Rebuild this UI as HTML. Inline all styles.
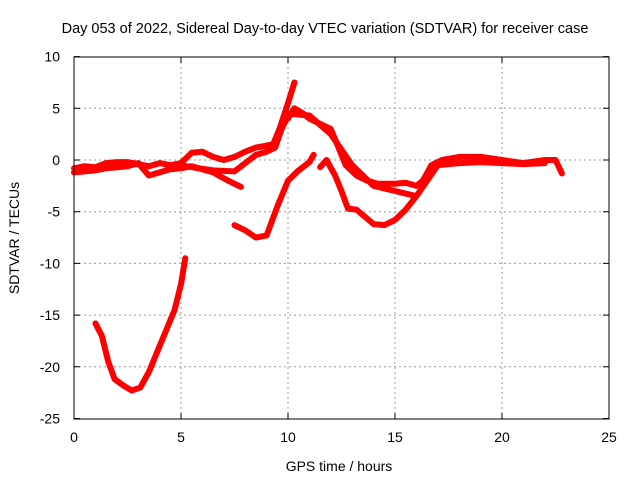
<!DOCTYPE html>
<html><head><meta charset="utf-8"><style>
body{margin:0;background:#fff}
text{font-family:"Liberation Sans",sans-serif;fill:#000}
</style></head><body>
<svg id="chart" width="640" height="480" xmlns="http://www.w3.org/2000/svg">
<text x="325" y="33" font-size="14.5" text-anchor="middle">Day 053 of 2022, Sidereal Day-to-day VTEC variation (SDTVAR) for receiver case</text>
<g id="grid"></g>
<g id="series"></g>
<rect x="74" y="57" width="535" height="362" fill="none" stroke="#000" stroke-width="1"/>
<g id="ticks"></g>
<text x="339" y="471" font-size="14" text-anchor="middle">GPS time / hours</text>
<text transform="translate(19,238) rotate(-90)" font-size="14" text-anchor="middle">SDTVAR / TECUs</text>
</svg>
<script>
const xTicks=[0,5,10,15,20,25];
const yTicks=[10,5,0,-5,-10,-15,-20,-25];
const segA=[[1.0,-15.8],[1.3,-17],[1.6,-19.5],[1.9,-21.2],[2.3,-21.8],[2.7,-22.3],[3.1,-22],[3.5,-20.5],[3.9,-18.5],[4.3,-16.5],[4.7,-14.5],[5.0,-12],[5.2,-9.5]];
const segB1=[[0,-0.8],[0.5,-0.6],[1,-0.7],[1.5,-0.3],[2,-0.2],[2.5,-0.2],[3,-0.4],[3.5,-0.6],[4,-0.3],[4.5,-0.5],[5,-0.3],[5.5,0.7],[6,0.8],[6.5,0.3],[7,0],[7.5,0.3],[8,0.8],[8.5,1.2],[9,1.4],[9.3,1.5],[9.6,3],[10,5.5],[10.3,7.5]];
const segB2=[[0,-1.2],[0.5,-1.1],[1,-1],[1.5,-0.8],[2,-0.7],[2.5,-0.6],[3,-0.3],[3.5,-1.5],[4,-1.2],[4.5,-0.9],[5,-0.8],[5.5,-0.6],[6.5,-1.2],[7.2,-2],[7.8,-2.6]];
const segB3=[[5,-0.5],[5.8,-0.8],[6.5,-1],[7.5,-1.1],[8,-0.3],[8.5,0.5],[9,0.8],[9.4,1.2],[9.7,3],[10,4.3]];
const segC=[[7.5,-6.3],[8,-6.8],[8.5,-7.5],[9,-7.3],[9.5,-4.5],[10,-2],[10.5,-1],[11,-0.2],[11.2,0.5]];
const segD=[[11.5,-0.7],[11.8,0],[12.2,-1.5],[12.5,-3],[12.8,-4.7],[13.2,-4.8],[13.6,-5.5],[14,-6.2],[14.5,-6.3],[15,-5.8],[15.5,-4.8],[16,-3.5]];
const segE1=[[10,4],[10.3,5],[10.7,4.5],[11,4],[11.5,3.5],[12,3],[12.3,1.5],[12.7,-0.5],[13.2,-1.5],[13.7,-2],[14.2,-2.3],[15,-2.3],[15.5,-2.2],[16,-2.5],[16.3,-2],[16.7,-0.5],[17.2,0],[18,0.3],[19,0.3],[20,0],[21,-0.3],[22,0],[22.5,0],[22.8,-1.3]];
const segE2=[[10,4.5],[11,4.3],[12,2.5],[13,-0.5],[14,-2.5],[15,-3],[16,-3.5],[16.5,-2],[17,-0.5],[18,-0.3],[19,-0.2],[20,-0.3],[21,-0.4],[22,-0.3]];
const allSegs=[segA,segB1,segB2,segB3,segC,segD,segE1,segE2];
const X=h=>74+h*21.4, Y=v=>160-v*10.34;
const NS="http://www.w3.org/2000/svg";
const grid=document.getElementById('grid'),ticks=document.getElementById('ticks'),ser=document.getElementById('series');
function mk(t,a,p){const e=document.createElementNS(NS,t);for(const k in a)e.setAttribute(k,a[k]);p.appendChild(e);return e;}
xTicks.forEach(t=>{
 if(t>0&&t<25){const l=mk('line',{x1:X(t),x2:X(t),y1:57,y2:419,stroke:'#999','stroke-dasharray':'2,3'},grid);
 
 }
 const tm=mk('path',{d:`M${X(t)},419v-6M${X(t)},57v6`,stroke:'#000'},ticks);
 
 
 const tx=mk('text',{x:X(t),y:442,'font-size':14,'text-anchor':'middle'},ticks);tx.textContent=t;
 
 
});
yTicks.forEach(t=>{
 if(t<10&&t>-25){const l=mk('line',{x1:74,x2:609,y1:Y(t),y2:Y(t),stroke:'#999','stroke-dasharray':'2,3'},grid);
 
 }
 const tm=mk('path',{d:`M74,${Y(t)}h6M609,${Y(t)}h-6`,stroke:'#000'},ticks);
 
 
 const tx=mk('text',{x:60,y:Y(t)+5,'font-size':14,'text-anchor':'end'},ticks);tx.textContent=t;
 
 
});
allSegs.forEach((s,i)=>{
 const p=mk('polyline',{points:s.map(d=>X(d[0])+','+Y(d[1])).join(' '),fill:'none',stroke:'#ff0000','stroke-width':6,'stroke-linejoin':'round','stroke-linecap':'round'},ser);
 
 
});
</script>
</body></html>
